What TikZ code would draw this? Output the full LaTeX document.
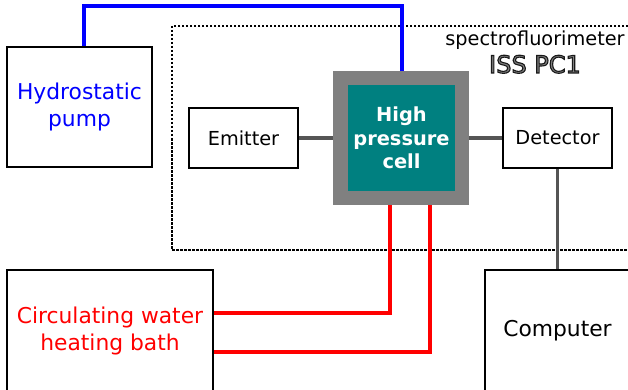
\documentclass[tikz,border=0pt]{standalone}
\usepackage{fontspec}
\setmainfont{DejaVu Sans}
\definecolor{tealc}{HTML}{008080}
\definecolor{cellgray}{HTML}{808080}
\definecolor{linegray}{HTML}{555555}
\begin{document}
\begin{tikzpicture}[x=1pt,y=-1pt,
  box/.style={draw=black,line width=1.6pt,fill=white,inner sep=0pt,align=center},
  bigtxt/.style={font=\fontsize{21.8}{27}\selectfont},
  smalltxt/.style={font=\fontsize{19.3}{23}\selectfont},
  wire/.style={line width=3.5pt,line cap=butt},
]
\useasboundingbox (0,0) rectangle (628,390);
% dashed enclosure
\draw[line width=1.2pt,dash pattern=on 2.5pt off 1.5pt] (628,26) -- (172,26) -- (172,250) -- (628,250);
% nodes
\node[box,bigtxt,text=blue,minimum width=145pt,minimum height=120pt] (pump) at (79.5,107) {Hydrostatic\\pump};
\node[box,smalltxt,minimum width=109pt,minimum height=60pt] (emitter) at (243.5,138) {Emitter};
\node[box,smalltxt,minimum width=109pt,minimum height=60pt] (detector) at (557.5,138) {Detector};
\node[fill=cellgray,minimum width=136pt,minimum height=134pt,inner sep=0pt] (cell) at (401,138) {};
\node[fill=tealc,minimum width=107pt,minimum height=106pt,inner sep=0pt,text=white,align=center,
  font=\fontsize{19.4}{23.5}\selectfont\bfseries] (cellin) at (401.5,138) {High\\pressure\\cell};
\node[box,bigtxt,text=red,minimum width=206pt,minimum height=121pt] (circ) at (110,330.5) {Circulating water\\heating bath};
\node[box,bigtxt,minimum width=145pt,minimum height=121pt] (computer) at (557.5,330.5) {Computer};
\node[smalltxt,anchor=base,inner sep=0pt] (spec) at (535,46) {spectrofluorimeter};
\node[anchor=base,inner sep=0pt,font=\fontsize{24}{28}\selectfont] (iss) at (535,73)
  {\color{cellgray}\special{pdf:literal direct 0.1 0.1 0.1 RG 2 Tr 1.1 w}ISS PC1\special{pdf:literal direct 0 Tr}};
% connectors
\draw[wire,blue] ([xshift=4.5pt]pump.north) -- ++(0,-40) -| ([xshift=1pt]cell.north);
\draw[wire,linegray] (emitter.east) -- (cell.west);
\draw[wire,linegray] (cell.east) -- (detector.west);
\draw[wire,linegray] (detector.south) -- (computer.north);
\draw[wire,red] ([xshift=-11pt]cell.south) |- ([yshift=17.5pt]circ.east);
\draw[wire,red] ([xshift=29pt]cell.south) |- ([yshift=-21.5pt]circ.east);
\end{tikzpicture}
\end{document}
